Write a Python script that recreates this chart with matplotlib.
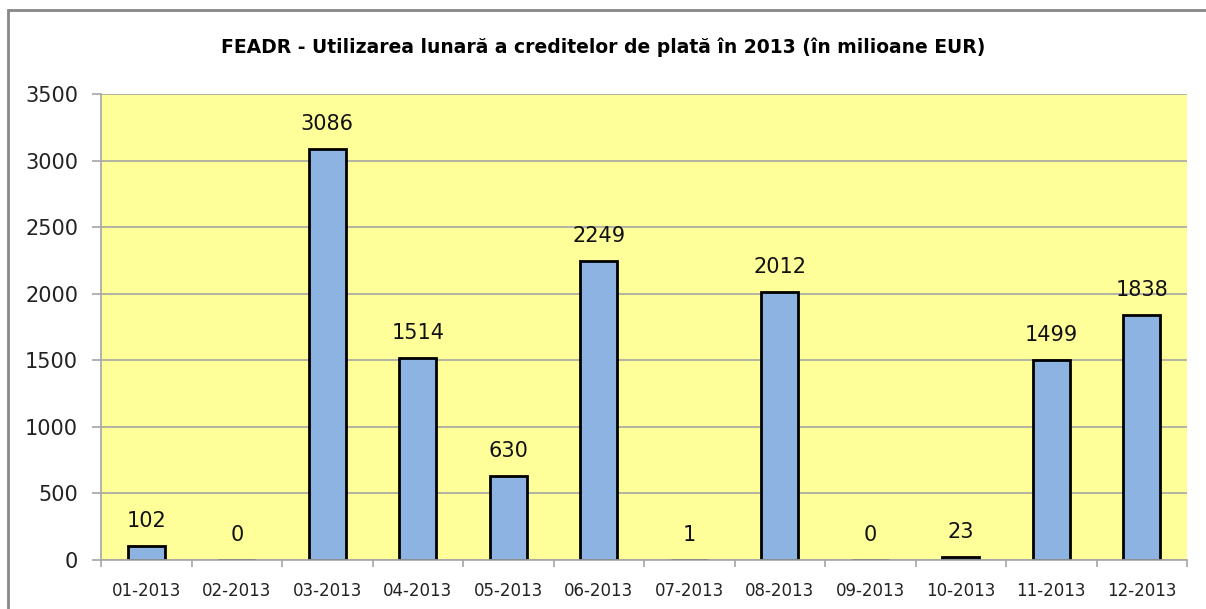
import matplotlib.pyplot as plt
from matplotlib.patches import Rectangle
from matplotlib.ticker import FixedLocator

months = ['01-2013', '02-2013', '03-2013', '04-2013', '05-2013', '06-2013',
          '07-2013', '08-2013', '09-2013', '10-2013', '11-2013', '12-2013']
values = [102, 0, 3086, 1514, 630, 2249, 1, 2012, 0, 23, 1499, 1838]
title = 'FEADR - Utilizarea lunară a creditelor de plată în 2013 (în milioane EUR)'

plt.rcParams['font.family'] = ['DejaVu Sans']

fig = plt.figure(figsize=(12.06, 6.09), dpi=100)
ax = fig.add_axes([101 / 1206, 49 / 609, 1086 / 1206, 466 / 609])

# plot area
ax.set_facecolor('#FFFF99')
ax.set_axisbelow(True)
ax.yaxis.grid(True, color='#A6A6A6', linewidth=1.2)

x = list(range(len(months)))
ax.bar(x, values, width=0.41, color='#8DB3E2', edgecolor='black', linewidth=2)

# value labels above bars
for xi, v in zip(x, values):
    ax.annotate(str(v), (xi, v), xytext=(0, 18), textcoords='offset points',
                ha='center', va='center', fontsize=15, color='#111111')

ax.set_xlim(-0.5, len(months) - 0.5)
ax.set_ylim(0, 3500)
ax.set_yticks(range(0, 3501, 500))
ax.set_xticks(x)
ax.set_xticklabels(months)
ax.xaxis.set_minor_locator(FixedLocator([i - 0.5 for i in range(len(months) + 1)]))

ax.tick_params(axis='x', which='major', length=0, pad=16, labelsize=12, labelcolor='#222222')
ax.tick_params(axis='x', which='minor', length=5, width=1.2, color='#A6A6A6')
ax.tick_params(axis='y', length=6.5, width=1.2, color='#A6A6A6', labelsize=15, pad=10, labelcolor='#222222')

for side in ['top', 'right']:
    ax.spines[side].set_visible(False)
for side in ['left', 'bottom']:
    ax.spines[side].set_color('#A6A6A6')
    ax.spines[side].set_linewidth(1.2)

fig.text(0.5, 1 - 47 / 609, title, ha='center', va='center',
         fontsize=13.5, fontweight='bold')

# chart border
fig.patches.append(Rectangle((8 / 1206, -0.2), 1.2, (609 - 10) / 609 + 0.2,
                             transform=fig.transFigure, fill=False,
                             edgecolor='#878787', linewidth=2))

fig.savefig('out.png', dpi=100)
